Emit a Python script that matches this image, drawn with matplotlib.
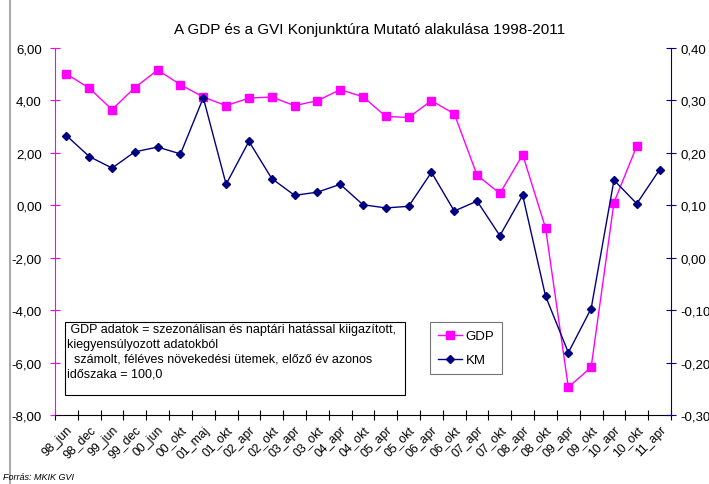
import matplotlib.pyplot as plt
from matplotlib.ticker import FuncFormatter
from matplotlib.lines import Line2D
import numpy as np

plt.rcParams['font.family'] = ['Liberation Sans', 'DejaVu Sans']

periods = ["98_jun", "98_dec", "99_jun", "99_dec", "00_jun", "00_okt", "01_maj",
           "01_okt", "02_apr", "02_okt", "03_apr", "03_okt", "04_apr", "04_okt",
           "05_apr", "05_okt", "06_apr", "06_okt", "07_apr", "07_okt", "08_apr",
           "08_okt", "09_apr", "09_okt", "10_apr", "10_okt", "11_apr"]

gdp = [5.01, 4.47, 3.65, 4.49, 5.16, 4.60, 4.13, 3.80, 4.09, 4.13, 3.80, 3.99,
       4.41, 4.14, 3.39, 3.35, 3.99, 3.49, 1.15, 0.45, 1.93, -0.86, -6.94,
       -6.18, 0.10, 2.26, np.nan]

km = [0.233, 0.193, 0.171, 0.202, 0.211, 0.198, 0.305, 0.140, 0.222, 0.151,
      0.119, 0.125, 0.140, 0.101, 0.095, 0.098, 0.163, 0.089, 0.108, 0.042,
      0.119, -0.073, -0.181, -0.097, 0.148, 0.103, 0.168]

MAG = "#ff00ff"
NAVY = "#000080"

fig = plt.figure(figsize=(7.09, 4.85), dpi=100)
ax = fig.add_axes([55 / 709, 1 - 416 / 485, 616 / 709, 367 / 485])
ax2 = ax.twinx()

x = np.arange(len(periods))
ax.plot(x, gdp, color=MAG, lw=1, marker="s", ms=6, mec=MAG, zorder=3)
ax2.plot(x, km, color=NAVY, lw=1, marker="D", ms=4, mec=NAVY, zorder=3)

ax.set_xlim(-0.5, len(periods) - 0.5)
ax.set_ylim(-8, 6)
ax2.set_ylim(-0.30, 0.40)
ax.set_yticks(np.arange(-8, 6.1, 2))
ax2.set_yticks(np.arange(-0.3, 0.41, 0.1))
ax.yaxis.set_major_formatter(FuncFormatter(lambda v, p: f"{v:.2f}".replace(".", ",")))
ax2.yaxis.set_major_formatter(FuncFormatter(lambda v, p: f"{v:.2f}".replace(".", ",").replace("-0,00", "0,00")))

# category boundaries as ticks, labels at centers
ax.set_xticks(np.arange(-0.5, len(periods)))
ax.set_xticklabels([])
ax.set_xticks(x, minor=True)
ax.set_xticklabels(periods, minor=True, rotation=45, ha="right", va="top",
                   rotation_mode="anchor", fontsize=8.8)
ax.tick_params(axis="x", which="minor", length=0, pad=6)
ax.tick_params(axis="x", which="major", direction="inout", length=7, width=0.8)

ax.tick_params(axis="y", direction="inout", length=7, color=MAG, labelsize=9.5, pad=6)
ax2.tick_params(axis="y", direction="inout", length=7, color=NAVY, labelsize=9.5, pad=3)

for a in (ax, ax2):
    a.spines["top"].set_visible(False)
ax.spines["left"].set_color(MAG)
ax.spines["right"].set_visible(False)
ax2.spines["left"].set_visible(False)
ax2.spines["right"].set_color(NAVY)
ax2.spines["bottom"].set_visible(False)
ax.spines["bottom"].set_color("black")

fig.text(370 / 709, 1 - 30 / 485, "A GDP és a GVI Konjunktúra Mutató alakulása 1998-2011",
         ha="center", va="center", fontsize=11)

note = (" GDP adatok = szezonálisan és naptári hatással kiigazított,\n"
        "kiegyensúlyozott adatokból\n"
        "  számolt, féléves növekedési ütemek, előző év azonos\n"
        "időszaka = 100,0")
fig.patches.append(plt.Rectangle((65 / 709, 1 - 396 / 485), 340 / 709, 73 / 485,
                                 transform=fig.transFigure, fill=True, fc="white",
                                 ec="black", lw=0.8, zorder=5))
fig.text(67 / 709, 1 - 324 / 485, note, ha="left", va="top", fontsize=9.0,
         linespacing=1.3, zorder=6)

handles = [Line2D([], [], color=MAG, lw=1, marker="s", ms=6, label="GDP"),
           Line2D([], [], color=NAVY, lw=1, marker="D", ms=4, label="KM")]
leg = ax2.legend(handles=handles, loc="upper left",
                 bbox_to_anchor=(430 / 709, 1 - 323 / 485),
                 bbox_transform=fig.transFigure, borderaxespad=0, frameon=True,
                 fancybox=False, shadow=False, fontsize=9.5, handlelength=1.8,
                 handletextpad=0.3, labelspacing=0.9, borderpad=0.6)
leg.get_frame().set_edgecolor("#555555")
leg.get_frame().set_linewidth(0.8)

fig.add_artist(Line2D([10 / 709, 10 / 709], [0, 1], transform=fig.transFigure,
                      color="#aaaaaa", lw=1.5))
fig.text(3 / 709, 1 - 478 / 485, "Forrás: MKIK GVI", ha="left", va="center",
         fontsize=6.5, style="italic")

fig.savefig("out.png", dpi=100)
